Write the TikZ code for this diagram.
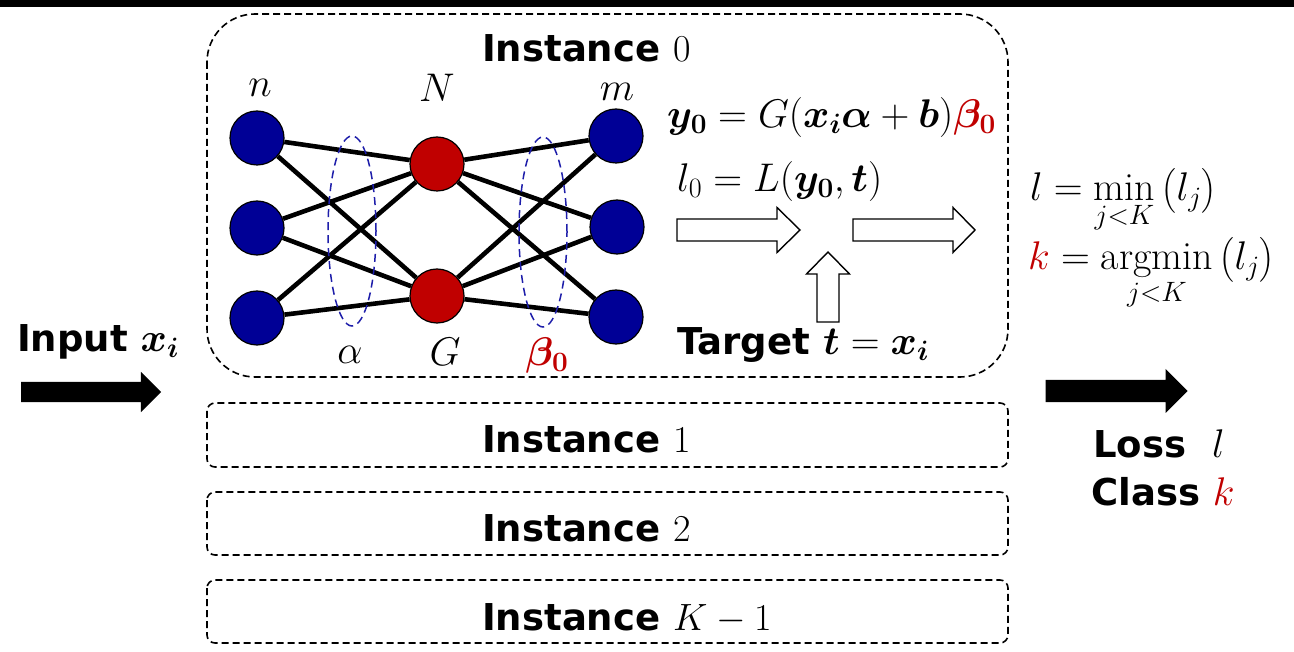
\RequirePackage{fix-cm}
\documentclass[tikz,border=0pt]{standalone}
\usepackage{amsmath,bm}
\usepackage{fontspec}
\setsansfont{DejaVu Sans}
\usetikzlibrary{shapes.arrows,shapes.geometric}
\definecolor{nblue}{RGB}{0,0,150}
\definecolor{nred}{RGB}{192,0,0}
\definecolor{eblue}{RGB}{30,30,170}
\newcommand{\bigfont}{\fontsize{37}{40}\selectfont}
\newcommand{\mfont}{\fontsize{40}{44}\selectfont}
\newcommand{\dfont}{\fontsize{38}{42}\selectfont}
\tikzset{
  boxline/.style={draw, line width=1.6pt, dash pattern=on 7pt off 4pt},
  neuron/.style={circle, draw, line width=1.2pt, minimum size=54pt, inner sep=0pt},
  inneuron/.style={neuron, fill=nblue},
  hidneuron/.style={neuron, fill=nred},
  edge/.style={line width=4.6pt},
  grp/.style={ellipse, draw=eblue, line width=1.5pt, dash pattern=on 8pt off 5pt, minimum width=48pt, minimum height=190pt},
  lbl/.style={font=\bigfont\sffamily\bfseries, inner sep=0pt},
  mlbl/.style={font=\mfont, inner sep=0pt},
  hollow/.style={draw, line width=1.4pt, fill=white, line join=miter},
  solid arrow/.style={single arrow, fill=black, inner sep=0pt, single arrow head extend=10pt, single arrow tip angle=90},
}
\begin{document}
\begin{tikzpicture}[x=1pt,y=-1pt]
\useasboundingbox (0,0) rectangle (1294,652);
\fill (0,0) rectangle (1294,7);

% instance boxes
\draw[boxline, rounded corners=48pt] (207,14) rectangle (1008,377);
\draw[boxline, rounded corners=8pt] (207,403) rectangle (1008,467);
\draw[boxline, rounded corners=8pt] (207,492) rectangle (1008,555);
\draw[boxline, rounded corners=8pt] (207,580) rectangle (1008,643);

\node[lbl, anchor=base west] (t0) at (482,62) {Instance\ {\dfont$0$}};
\node[lbl, anchor=base west] (t1) at (482,452) {Instance\ {\dfont$1$}};
\node[lbl, anchor=base west] (t2) at (482,541) {Instance\ {\dfont$2$}};
\node[lbl, anchor=base west] (t3) at (482,630) {Instance\ {\dfont$K-1$}};

% network
\node[inneuron] (i1) at (257,138) {};
\node[inneuron] (i2) at (257,228) {};
\node[inneuron] (i3) at (257,318) {};
\node[hidneuron] (h1) at (437,164) {};
\node[hidneuron] (h2) at (437,296) {};
\node[inneuron] (o1) at (616,136) {};
\node[inneuron] (o2) at (617,227) {};
\node[inneuron] (o3) at (616,317) {};

\foreach \a in {i1,i2,i3}{
  \foreach \b in {h1,h2}{ \draw[edge] (\a) -- (\b); }
}
\foreach \a in {h1,h2}{
  \foreach \b in {o1,o2,o3}{ \draw[edge] (\a) -- (\b); }
}

\node[grp] (ga) at (352,231) {};
\node[grp] (gb) at (543,232) {};

\node[mlbl] (ln) at (260,88) {$n$};
\node[mlbl] (lN) at (437,88) {$N$};
\node[mlbl] (lm) at (617,92) {$m$};
\node[mlbl] (la) at (350,355) {$\alpha$};
\node[mlbl] (lG) at (445,352) {$G$};
\node[mlbl, text=nred] (lb) at (547,356) {$\bm{\beta}_{\bm{0}}$};

% equations
\node[mlbl, anchor=base west] (eq1) at (667,128)
  {$\bm{y}_{\bm{0}} = G(\bm{x}_{\bm{i}}\bm{\alpha}+\bm{b})\textcolor{nred}{\bm{\beta}_{\bm{0}}}$};
\node[mlbl, anchor=base west] (eq2) at (677,192)
  {$l_0 = L(\bm{y}_{\bm{0}},\bm{t})$};

% hollow arrows
\draw[hollow] (677,219) -- (777,219) -- (777,207.5) -- (800,230) -- (777,252.5) -- (777,241) -- (677,241) -- cycle;
\draw[hollow] (853,219) -- (953,219) -- (953,207.5) -- (975,230) -- (953,252.5) -- (953,241) -- (853,241) -- cycle;
\draw[hollow] (817,322) -- (817,274) -- (806.5,274) -- (828,252) -- (849.5,274) -- (839,274) -- (839,322) -- cycle;

\node[anchor=base west, inner sep=0pt] (target) at (677,355)
  {{\bigfont\sffamily\bfseries Target\ }{\mfont$\bm{t}=\bm{x}_{\bm{i}}$}};

% right equations
\node[mlbl, anchor=base west] (eqmin) at (1030,201)
  {$l = \min\limits_{j<K}\,\bigl(l_j\bigr)$};
\node[mlbl, anchor=base west] (eqarg) at (1028,270)
  {$\textcolor{nred}{k} = \mathop{\mathrm{argmin}}\limits_{j<K}\,\bigl(l_j\bigr)$};

% input / output
\node[anchor=base west, inner sep=0pt] (input) at (17,352)
  {{\bigfont\sffamily\bfseries Input\ }{\mfont$\bm{x}_{\bm{i}}$}};
\node[solid arrow, minimum height=140pt, minimum width=40pt, text height=20pt] (inarrow) at (86,392) {};
\node[solid arrow, minimum height=142pt, minimum width=44pt, text height=20pt] (outarrow) at (1111,391) {};

\node[anchor=base west, inner sep=0pt] (loss) at (1093,457)
  {{\bigfont\sffamily\bfseries Loss\ \ }{\mfont$l$}};
\node[anchor=base west, inner sep=0pt] (cls) at (1091,505)
  {{\bigfont\sffamily\bfseries Class\ }{\mfont$\textcolor{nred}{k}$}};
\end{tikzpicture}
\end{document}
